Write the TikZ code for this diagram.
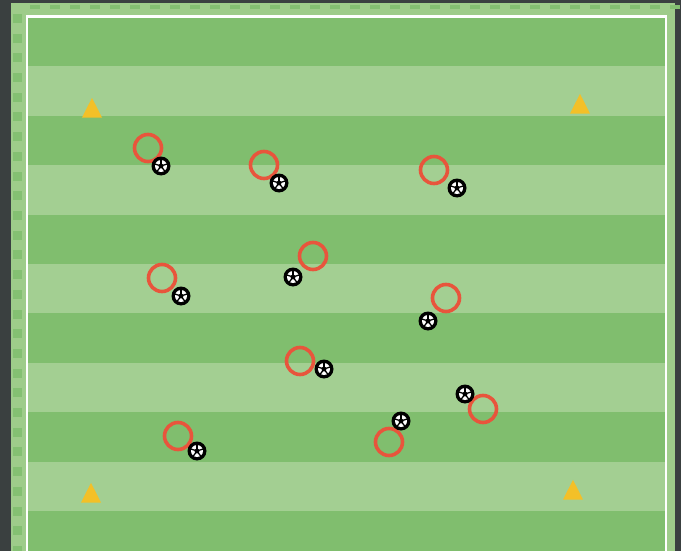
\documentclass[tikz,border=0pt]{standalone}
\usetikzlibrary{shapes.geometric,calc}
\definecolor{bgdark}{RGB}{58,64,64}
\definecolor{outergreen}{RGB}{158,204,138}
\definecolor{dashgreen}{RGB}{132,192,114}
\definecolor{stripedark}{RGB}{128,190,110}
\definecolor{stripelight}{RGB}{163,207,146}
\definecolor{ringred}{RGB}{232,85,60}
\definecolor{coneyellow}{RGB}{243,192,40}
\tikzset{
  ring/.style={circle, draw=ringred, line width=3.6pt, minimum size=27pt, inner sep=0pt},
  cone/.style={regular polygon, regular polygon sides=3, fill=coneyellow, draw=none, minimum size=23pt, inner sep=0pt, yscale=1.15},
  ballbase/.style={circle, fill=black, minimum size=19pt, inner sep=0pt}
}
\newcommand{\myball}[2]{%
  \node[ballbase] (#1) at #2 {};
  \fill[white] (#1.center) circle (6pt);
  \fill[black] ($(#1.center)+(90:2.9pt)$) -- ($(#1.center)+(162:2.9pt)$) -- ($(#1.center)+(234:2.9pt)$) -- ($(#1.center)+(306:2.9pt)$) -- ($(#1.center)+(18:2.9pt)$) -- cycle;
  \foreach \a in {90,162,234,306,18} {\draw[black, line width=1.3pt] ($(#1.center)+(\a:2.4pt)$) -- ($(#1.center)+(\a:7pt)$);}
}
\begin{document}
\begin{tikzpicture}[x=1pt,y=-1pt]
\useasboundingbox (0,0) rectangle (681,551);
\fill[bgdark] (0,0) rectangle (681,551);
\fill[outergreen] (11,3) rectangle (675,551);
% left dashes
\foreach \i in {0,...,27} {\fill[dashgreen] (13,{14+\i*19.7}) rectangle (22,{23+\i*19.7});}
% top dashes
\foreach \i in {0,...,32} {\fill[dashgreen] ({30+\i*20},5) rectangle ({40+\i*20},9);}
% stripes
\foreach \i in {0,...,10} {
  \pgfmathsetmacro{\yy}{17+\i*49.4}
  \pgfmathparse{mod(\i,2)==0 ? 1 : 0}
  \ifnum\pgfmathresult=1
    \fill[stripedark] (27,\yy) rectangle (666,{\yy+49.4});
  \else
    \fill[stripelight] (27,\yy) rectangle (666,{\yy+49.4});
  \fi
}
\fill[outergreen] (27,551) rectangle (666,560);
% white border
\draw[white, line width=2.4pt] (27,560) -- (27,16.5) -- (666,16.5) -- (666,560);
% cones
\node[cone] (c1) at (92,111) {};
\node[cone] (c2) at (580,107) {};
\node[cone] (c3) at (91,496) {};
\node[cone] (c4) at (573,493) {};
% rings
\node[ring] (r1) at (148,148) {};
\node[ring] (r2) at (264,165) {};
\node[ring] (r3) at (434,170) {};
\node[ring] (r4) at (313,256) {};
\node[ring] (r5) at (162,278) {};
\node[ring] (r6) at (446,298) {};
\node[ring] (r7) at (300,361) {};
\node[ring] (r8) at (483,409) {};
\node[ring] (r9) at (389,442) {};
\node[ring] (r10) at (178,436) {};
% balls
\myball{b1}{(161,166)}
\myball{b2}{(279,183)}
\myball{b3}{(457,188)}
\myball{b4}{(293,277)}
\myball{b5}{(181,296)}
\myball{b6}{(428,321)}
\myball{b7}{(324,369)}
\myball{b8}{(465,394)}
\myball{b9}{(401,421)}
\myball{b10}{(197,451)}
\end{tikzpicture}
\end{document}
